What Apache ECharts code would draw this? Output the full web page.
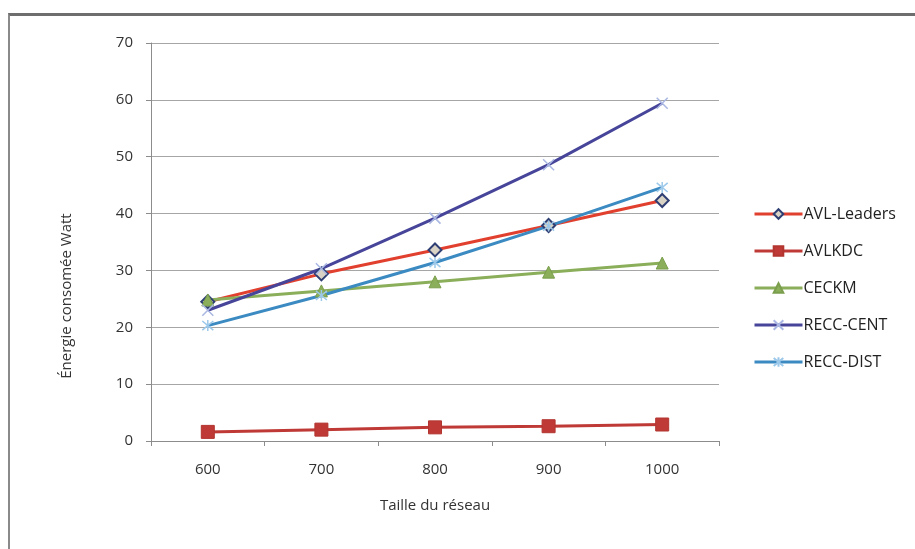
<!DOCTYPE html>
<html>
<head>
<meta charset="utf-8">
<script src="https://cdn.jsdelivr.net/npm/echarts@6/dist/echarts.min.js"></script>
<style>
  html, body { margin: 0; padding: 0; background: #ffffff; }
  #wrap { position: relative; width: 915px; height: 549px; overflow: hidden; }
  #frame { position: absolute; left: 8px; top: 13px; width: 920px; height: 560px;
           border-top: 3px solid #6e6e6e; border-left: 2px solid #8a8a8a; }
  #chart { position: absolute; left: 0; top: 0; width: 915px; height: 549px; }
</style>
</head>
<body>
<div id="wrap">
  <div id="frame"></div>
  <div id="chart"></div>
</div>
<script>
// Network sizes (x categories)
const categories = ['600', '700', '800', '900', '1000'];

// Consumed energy per protocol (Watt)
const avlLeaders = [24.5, 29.4, 33.6, 37.9, 42.3];
const avlkdc     = [1.6, 2.0, 2.4, 2.6, 2.9];
const ceckm      = [24.8, 26.4, 28.0, 29.7, 31.3];
const reccCent   = [23.0, 30.3, 39.2, 48.6, 59.4];
const reccDist   = [20.3, 25.6, 31.4, 37.8, 44.6];

const seriesNames = ['AVL-Leaders', 'AVLKDC', 'CECKM', 'RECC-CENT', 'RECC-DIST'];
const yTitle = 'Énergie consomée Watt';
const xTitle = 'Taille du réseau';

const FONT = 'Open Sans';
const CROSS = 'path://M0,0L10,10M10,0L0,10';
const STAR = 'path://M0,0L10,10M10,0L0,10M5,-1L5,11';

function lineSeries(name, data, color, symbol, size, markerStyle) {
  return {
    name: name,
    type: 'line',
    data: data,
    symbol: symbol,
    symbolSize: size,
    showAllSymbol: true,
    lineStyle: { color: color, width: 3 },
    itemStyle: markerStyle,
    emphasis: { disabled: true },
    animation: false
  };
}

const chart = echarts.init(document.getElementById('chart'), null, { renderer: 'canvas' });

chart.setOption({
  backgroundColor: 'transparent',
  textStyle: { fontFamily: FONT },
  grid: { left: 151, right: 196, top: 43, bottom: 108, containLabel: false },
  legend: {
    orient: 'vertical',
    left: 748,
    top: 201,
    itemWidth: 48,
    itemHeight: 12,
    itemGap: 21,
    lineStyle: { width: 3 },
    textStyle: { fontFamily: FONT, fontSize: 16, color: '#222', padding: [0, 0, 0, -4] },
    data: seriesNames
  },
  // rotated y-axis title, sitting a little below the plot's middle
  graphic: [{
    type: 'text',
    x: 67,
    y: 296,
    rotation: Math.PI / 2,
    silent: true,
    style: {
      text: yTitle,
      fontFamily: FONT,
      fontSize: 15,
      fill: '#333',
      align: 'center',
      verticalAlign: 'middle'
    }
  }],
  xAxis: {
    type: 'category',
    data: categories,
    boundaryGap: true,
    name: xTitle,
    nameLocation: 'middle',
    nameGap: 57,
    nameTextStyle: { fontFamily: FONT, fontSize: 15, color: '#333' },
    axisLine: { lineStyle: { color: '#8c8c8c', width: 1 } },
    axisTick: { show: true, inside: false, length: 5, lineStyle: { color: '#8c8c8c' } },
    axisLabel: { fontFamily: FONT, fontSize: 15, color: '#333', margin: 21 },
    splitLine: { show: false }
  },
  yAxis: {
    type: 'value',
    min: 0,
    max: 70,
    interval: 10,
    axisLine: { show: true, lineStyle: { color: '#8c8c8c', width: 1 } },
    axisTick: { show: true, inside: false, length: 5, lineStyle: { color: '#8c8c8c' } },
    axisLabel: { fontFamily: FONT, fontSize: 15, color: '#333', margin: 18 },
    splitLine: { show: true, lineStyle: { color: '#a6a6a6', width: 1 } }
  },
  series: [
    lineSeries('AVL-Leaders', avlLeaders, '#e2402f', 'diamond', 13,
      { color: '#d9d3c6', borderColor: '#2f3f73', borderWidth: 2 }),
    lineSeries('AVLKDC', avlkdc, '#bf3a36', 'rect', 13,
      { color: '#bf3a36', borderColor: '#b23530', borderWidth: 1 }),
    lineSeries('CECKM', ceckm, '#8aae5a', 'triangle', 12,
      { color: '#8aae5a', borderColor: '#7a9e4c', borderWidth: 1 }),
    lineSeries('RECC-CENT', reccCent, '#47459a', CROSS, 11,
      { color: 'rgba(0,0,0,0)', borderColor: '#a9b7e2', borderWidth: 1.5 }),
    lineSeries('RECC-DIST', reccDist, '#3b8ac2', STAR, 11,
      { color: 'rgba(0,0,0,0)', borderColor: '#9cc8ea', borderWidth: 1.5 })
  ]
});
</script>
</body>
</html>
